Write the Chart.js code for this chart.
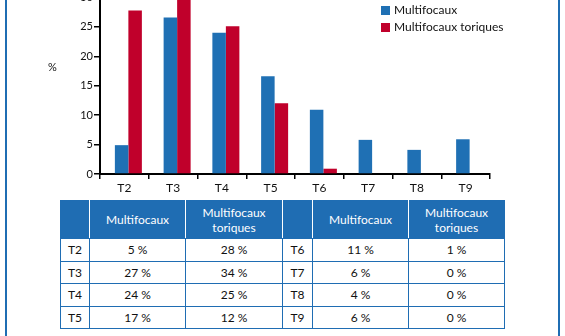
<!DOCTYPE html>
<html>
<head>
<meta charset="utf-8">
<script src="https://cdn.jsdelivr.net/npm/chart.js@4.4.0/dist/chart.umd.min.js"></script>
<style>
  body { margin: 0; width: 565px; height: 336px; overflow: hidden; background: #fff; position: relative; font-family: Lato, sans-serif; color: #111; }
  #wrap { position: absolute; left: 0; top: -50px; width: 565px; height: 250px; }
  .frame { position: absolute; top: 0; width: 2px; height: 336px; background: #1f6db3; }
  #legend { position: absolute; left: 381px; top: 1px; font-size: 12px; }
  #legend div { height: 17px; line-height: 17px; white-space: nowrap; }
  #legend span.box { display: inline-block; width: 9px; height: 9px; margin-right: 4px; vertical-align: -1px; }
  #ylab { position: absolute; left: 48px; top: 60px; font-size: 11px; }
  table { position: absolute; left: 60px; top: 200px; border-collapse: collapse; table-layout: fixed; font-size: 12px; }
  td, th { border: 1.5px solid #1f6db3; text-align: center; padding: 0; }
  th { background: #1f6db3; color: #fff; font-weight: normal; height: 37px; border-left-color: #fff; border-right-color: #fff; line-height: 15px; }
  th:first-child { border-left-color: #1f6db3; }
  th:last-child { border-right-color: #1f6db3; }
  td { height: 21.5px; }
</style>
</head>
<body>
<div class="frame" style="left:5px"></div>
<div class="frame" style="left:558px"></div>
<div id="wrap"><canvas id="myChart"></canvas></div>
<div id="ylab">%</div>
<div id="legend"></div>
<table id="tbl"></table>
<script>
var categories = ['T2', 'T3', 'T4', 'T5', 'T6', 'T7', 'T8', 'T9']
var seriesNames = ['Multifocaux', 'Multifocaux toriques']
var seriesColors = ['#1f70b4', '#c0002b']
// bar heights
var multifocaux = [4.9, 26.6, 24.0, 16.6, 10.9, 5.8, 4.1, 5.9]
var multifocauxToriques = [27.8, 34, 25.1, 12.0, 0.9, 0, 0, 0]
// numbers printed in the table
var tableMultifocaux = [5, 27, 24, 17, 11, 6, 4, 6]
var tableToriques = [28, 34, 25, 12, 1, 0, 0, 0]
var tableHeaders = ['', 'Multifocaux', 'Multifocaux<br>toriques', '', 'Multifocaux', 'Multifocaux<br>toriques']
var colWidths = [29, 96, 97, 30, 96, 96]
var yMax = 35
var yStep = 5

// bars sit a little right of the category centre in the original
var shiftBars = {
    id: 'shiftBars',
    beforeDatasetsDraw: function (chart) { chart.ctx.save(); chart.ctx.translate(4, 0) },
    afterDatasetsDraw: function (chart) { chart.ctx.restore() }
}

let ctx = document.getElementById('myChart').getContext('2d')
let chart = new Chart(ctx, {
    type: 'bar',
    data: {
        labels: categories,
        datasets: [{
            label: seriesNames[0],
            data: multifocaux,
            backgroundColor: seriesColors[0],
            categoryPercentage: 0.554,
            barPercentage: 1
        }, {
            label: seriesNames[1],
            data: multifocauxToriques,
            backgroundColor: seriesColors[1],
            categoryPercentage: 0.554,
            barPercentage: 1
        }]
    },
    options: {
        responsive: true,
        maintainAspectRatio: false,
        animation: false,
        layout: { padding: { top: 18, right: 75, bottom: 0, left: 0 } },
        plugins: { legend: { display: false }, tooltip: { enabled: false } },
        scales: {
            x: {
                afterFit: function (s) { s.height = 26 },
                grid: { offset: true, drawOnChartArea: false, tickLength: 5, color: '#000', lineWidth: 1.5 },
                border: { color: '#000', width: 2 },
                ticks: { color: '#111', font: { family: 'Lato', size: 12 }, padding: 2 }
            },
            y: {
                min: 0,
                max: yMax,
                afterFit: function (s) { s.width = 100 },
                grid: { drawOnChartArea: false, tickLength: 6, color: '#000', lineWidth: 1.5 },
                border: { color: '#000', width: 2 },
                ticks: { stepSize: yStep, color: '#111', font: { family: 'Lato', size: 11 }, padding: 1 }
            }
        }
    },
    plugins: [shiftBars]
})

// legend
var legend = document.getElementById('legend')
for (var i in seriesNames) {
    legend.innerHTML += '<div><span class="box" style="background:' + seriesColors[i] + '"></span>' + seriesNames[i] + '</div>'
}

// table
var html = '<colgroup>'
for (var i in colWidths) html += '<col style="width:' + colWidths[i] + 'px">'
html += '</colgroup><tr>'
for (var i in tableHeaders) html += '<th>' + tableHeaders[i] + '</th>'
html += '</tr>'
for (var r = 0; r < 4; r++) {
    html += '<tr><td>' + categories[r] + '</td><td>' + tableMultifocaux[r] + ' %</td><td>' + tableToriques[r] + ' %</td>'
    html += '<td>' + categories[r + 4] + '</td><td>' + tableMultifocaux[r + 4] + ' %</td><td>' + tableToriques[r + 4] + ' %</td></tr>'
}
document.getElementById('tbl').innerHTML = html
</script>
</body>
</html>
